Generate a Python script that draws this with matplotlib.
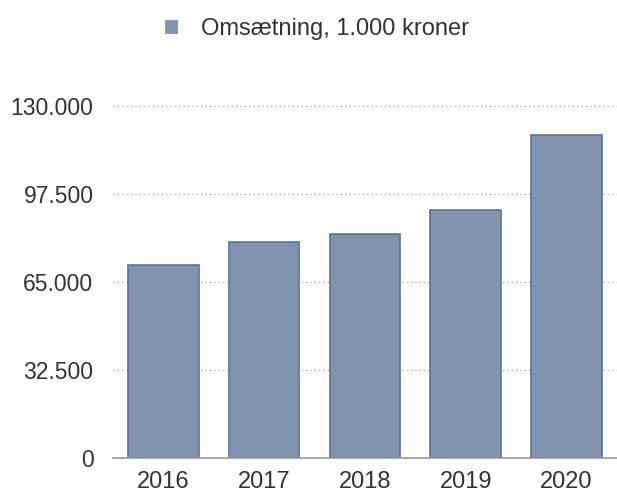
import matplotlib.pyplot as plt
from matplotlib.patches import Patch
from matplotlib.ticker import FuncFormatter

# data (1.000 kroner)
years = ['2016', '2017', '2018', '2019', '2020']
omsaetning = [71300, 79900, 82700, 91800, 119500]
y_ticks = [0, 32500, 65000, 97500, 130000]

bar_color = '#8293ad'
edge_color = '#5b72a0'
text_color = '#333333'

plt.rcParams['font.family'] = ['Liberation Sans', 'DejaVu Sans']

fig = plt.figure(figsize=(6.17, 4.94), dpi=100)
ax = fig.add_axes([0.183, 0.0723, 0.817, 0.7127])

x = range(len(years))
ax.bar(x, omsaetning, width=0.7, color=bar_color, edgecolor=edge_color,
       linewidth=1.2, zorder=3)

ax.set_xlim(-0.5, len(years) - 0.5)
ax.set_ylim(0, 130000)
ax.set_xticks(list(x))
ax.set_xticklabels(years)
ax.set_yticks(y_ticks)

# thousands separator with a dot, as in Danish
ax.yaxis.set_major_formatter(FuncFormatter(lambda v, p: f'{int(v):,}'.replace(',', '.')))

# dotted grid lines, solid baseline
for v in y_ticks[1:]:
    ax.axhline(v, color='#aaaaaa', linestyle=(0, (1, 2.5)), linewidth=0.9,
               zorder=1, clip_on=False)
ax.axhline(0, color='#999999', linewidth=1.2, zorder=4, clip_on=False)

for s in ax.spines.values():
    s.set_visible(False)

ax.tick_params(axis='y', length=0, pad=14, labelsize=16.5, labelcolor=text_color)
ax.tick_params(axis='x', length=0, pad=9, labelsize=17, labelcolor=text_color)

handle = Patch(facecolor=bar_color, edgecolor='#8fa0bb', linewidth=0.8)
fig.legend([handle], ['Omsætning, 1.000 kroner'], loc='center',
           bbox_to_anchor=(0.514, 0.941), frameon=False, fontsize=17,
           labelcolor=text_color, handlelength=0.5, handleheight=0.5,
           handletextpad=1.0)

fig.savefig('out.png', dpi=100)
